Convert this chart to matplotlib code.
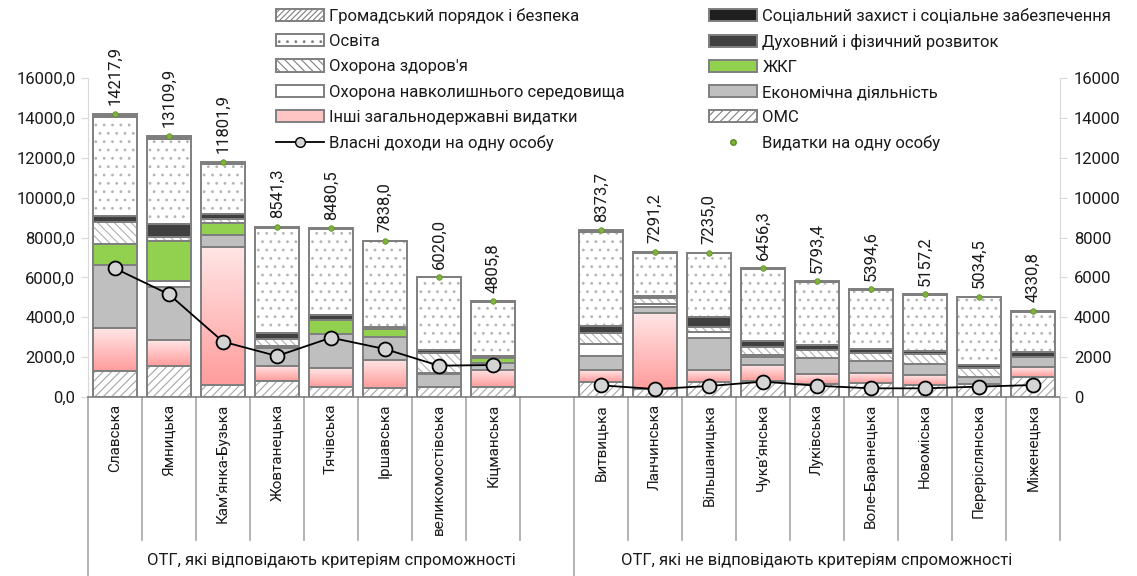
import numpy as np
import matplotlib
matplotlib.use("Agg")
import matplotlib.pyplot as plt
import matplotlib.transforms as mtransforms
from matplotlib.patches import Patch
from matplotlib.lines import Line2D
from matplotlib.colors import LinearSegmentedColormap

plt.rcParams["font.family"] = ["Roboto", "DejaVu Sans"]
plt.rcParams["hatch.linewidth"] = 0.8

# ---- categories -------------------------------------------------------
group1 = ["Славська", "Ямницька", "Кам’янка-Бузька", "Жовтанецька",
          "Тячівська", "Іршавська", "великомостівська", "Кіцманська"]
group2 = ["Витвицька", "Ланчинська", "Вільшаницька", "Чукв’янська",
          "Луківська", "Воле-Баранецька", "Новоміська", "Перерíслянська".replace("í", "і"),
          "Міженецька"]
group_titles = ["ОТГ, які відповідають критеріям спроможності",
                "ОТГ, які не відповідають критеріям спроможності"]

# ---- expenditure structure per person (bottom to top of the stack) ----
omc = [1315, 1570, 600, 800, 520, 440, 485, 485,
       770, 385, 770, 820, 650, 720, 600, 635, 990]
inshi = [2150, 1290, 6940, 755, 920, 1415, 0, 870,
         585, 3845, 585, 785, 500, 500, 500, 0, 500]
ekon = [3170, 2670, 585, 905, 1700, 1170, 665, 365,
        700, 270, 1620, 415, 790, 585, 540, 385, 500]
navk = [0, 290, 0, 0, 0, 0, 0, 0,
        585, 165, 300, 85, 0, 0, 0, 0, 0]
zhkg = [1015, 2000, 620, 100, 720, 385, 70, 220,
        0, 0, 0, 0, 0, 0, 0, 0, 0]
zdorov = [1150, 215, 185, 345, 0, 0, 970, 0,
          585, 285, 250, 385, 415, 385, 515, 420, 0]
dukh = [300, 640, 250, 300, 230, 80, 165, 100,
        335, 115, 475, 320, 235, 200, 165, 165, 270]
osvita = [4927.9, 4264.9, 2509.9, 5256.3, 4330.5, 4318.0, 3640.0, 2735.8,
          4733.7, 2176.2, 3205.0, 3596.3, 3188.4, 2974.6, 2797.2, 3419.5, 2010.8]
soc = [120, 110, 70, 50, 40, 20, 15, 20,
       50, 30, 20, 30, 10, 20, 25, 5, 40]
gromad = [70, 60, 42, 30, 20, 10, 10, 10,
          30, 20, 10, 20, 5, 10, 15, 5, 20]

# per-person expenditure (labelled points) and own revenues per person
vydatky = [14217.9, 13109.9, 11801.9, 8541.3, 8480.5, 7838.0, 6020.0, 4805.8,
           8373.7, 7291.2, 7235.0, 6456.3, 5793.4, 5394.6, 5157.2, 5034.5, 4330.8]
vlasni = [6450, 5150, 2775, 2055, 2975, 2405, 1570, 1605,
          585, 400, 550, 770, 565, 435, 435, 520, 600]

y_ticks = [0, 2000, 4000, 6000, 8000, 10000, 12000, 14000, 16000]

# ---- styling ----------------------------------------------------------
EDGE = "#7f7f7f"
TXT = "#1a1a1a"
stack = [
    ("ОМС", omc, "white", "#a6a6a6", "////"),
    ("Інші загальнодержавні видатки", inshi, "#ffc4c4", None, None),
    ("Економічна діяльність", ekon, "#bfbfbf", None, None),
    ("Охорона навколишнього середовища", navk, "white", None, None),
    ("ЖКГ", zhkg, "#92d050", None, None),
    ("Охорона здоров'я", zdorov, "white", "#b0b0b0", "\\\\\\\\"),
    ("Духовний і фізичний розвиток", dukh, "#404040", None, None),
    ("Освіта", osvita, "white", "#b4b4b4", ".."),
    ("Соціальний захист і соціальне забезпечення", soc, "#1f1f1f", None, None),
    ("Громадський порядок і безпека", gromad, "white", "#6e6e6e", "//////"),
]

W, H = 1137, 576
fig = plt.figure(figsize=(W / 100, H / 100), dpi=100)
x0, x1, yb, yt = 88, 1060, 397, 78
ax = fig.add_axes([x0 / W, 1 - yb / H, (x1 - x0) / W, (yb - yt) / H])

pos = np.concatenate([np.arange(len(group1)), np.arange(len(group2)) + len(group1) + 1])
bw = 0.83

pink_cmap = LinearSegmentedColormap.from_list("pinkgrad", ["#ff9c9c", "#ffe6e6"])
grad = np.linspace(0, 1, 128).reshape(-1, 1)

bottom = np.zeros(len(pos))
for name, vals, face, hcol, hatch in stack:
    vals = np.asarray(vals, dtype=float)
    if hatch:
        ax.bar(pos, vals, bw, bottom=bottom, color=face, edgecolor=hcol,
               hatch=hatch, linewidth=0, zorder=2)
    else:
        ax.bar(pos, vals, bw, bottom=bottom, color=face, linewidth=0, zorder=2)
    if name.startswith("Інші"):
        for p, b, v in zip(pos, bottom, vals):
            if v > 0:
                ax.imshow(grad, cmap=pink_cmap, origin="lower", aspect="auto",
                          extent=[p - bw / 2, p + bw / 2, b, b + v], zorder=2.5,
                          interpolation="bilinear")
    mask = vals > 0
    ax.bar(pos[mask], vals[mask], bw, bottom=bottom[mask], fill=False,
           edgecolor=EDGE, linewidth=1.4, zorder=3)
    bottom += vals

ax.set_xlim(-0.5, len(pos) + 0.5)
ax.set_ylim(0, 16000)
ax.set_yticks(y_ticks)
ax.set_yticklabels([f"{v:.1f}".replace(".", ",") for v in y_ticks],
                   fontsize=12, color=TXT)
ax.set_xticks([])
ax.tick_params(axis="y", length=5, color="#d9d9d9", pad=4)
for s in ("top", "right"):
    ax.spines[s].set_visible(False)
ax.spines["left"].set_color("#d9d9d9")
ax.spines["bottom"].set_color("#808080")
ax.spines["bottom"].set_linewidth(1.2)

ax2 = ax.twinx()
ax2.set_ylim(0, 16000)
ax2.set_yticks(y_ticks)
ax2.set_yticklabels([str(v) for v in y_ticks], fontsize=12, color=TXT)
ax2.tick_params(axis="y", length=5, color="#d9d9d9", pad=5)
for s in ("top", "left", "bottom"):
    ax2.spines[s].set_visible(False)
ax2.spines["right"].set_color("#d9d9d9")

# own revenues line, broken between the two groups
n1 = len(group1)
for sl in (slice(0, n1), slice(n1, None)):
    ax2.plot(pos[sl], vlasni[sl], color="black", lw=1.3, marker="o",
             markersize=10, markerfacecolor="#d4d4d4", markeredgecolor="black",
             markeredgewidth=1.3, zorder=5)

# per-person expenditure points with labels
ax2.plot(pos, vydatky, ls="none", marker="o", markersize=4,
         markerfacecolor="#80b33a", markeredgecolor="#5e8a26", markeredgewidth=0.5,
         zorder=6)
for p, v in zip(pos, vydatky):
    ax2.annotate(f"{v:.1f}".replace(".", ","), (p, v), xytext=(0, 6),
                 textcoords="offset points", rotation=90, ha="center", va="bottom",
                 fontsize=12, color=TXT)

# category labels and separators below the axis
blend = mtransforms.blended_transform_factory(ax.transData, fig.transFigure)
for p, name in zip(pos, group1 + group2):
    ax.text(p, 1 - 404 / H, name, rotation=90, ha="center", va="top",
            fontsize=11, color=TXT, transform=blend)
edges = np.arange(len(pos) + 2) - 0.5
long_edges = {-0.5, n1 + 0.5}
for e in edges:
    y_end = 576 if e in long_edges else 540
    ax.add_line(Line2D([e, e], [1 - yb / H, 1 - y_end / H], transform=blend,
                       color="#a6a6a6", lw=1.2, clip_on=False))
ax.text((-0.5 + n1 + 0.5) / 2, 1 - 561 / H, group_titles[0], ha="center",
        va="center", fontsize=12, color=TXT, transform=blend)
ax.text((n1 + 0.5 + len(pos) + 0.5) / 2, 1 - 561 / H, group_titles[1],
        ha="center", va="center", fontsize=12, color=TXT, transform=blend)

# legends
def patch(face, hatch=None, hcol=None):
    return Patch(facecolor=face, edgecolor=hcol or EDGE, hatch=hatch, linewidth=1.4)

styles = {n: (f, h, hc) for n, _, f, hc, h in stack}
line_handle = Line2D([], [], color="black", lw=1.3, marker="o", markersize=7,
                     markerfacecolor="#d4d4d4", markeredgecolor="black")
dot_handle = Line2D([], [], ls="none", marker="o", markersize=4,
                    markerfacecolor="#80b33a", markeredgecolor="#5e8a26")

left_names = ["Громадський порядок і безпека", "Освіта", "Охорона здоров'я",
              "Охорона навколишнього середовища", "Інші загальнодержавні видатки"]
right_names = ["Соціальний захист і соціальне забезпечення",
               "Духовний і фізичний розвиток", "ЖКГ", "Економічна діяльність", "ОМС"]

def handles_for(names):
    out = []
    for n in names:
        f, h, hc = styles[n]
        out.append(patch(f, h, EDGE if h else None))
    return out

kw = dict(frameon=False, fontsize=12, handlelength=2.9, handleheight=0.75,
          labelspacing=0.61, handletextpad=0.3, borderaxespad=0, borderpad=0,
          labelcolor=TXT)
leg1 = fig.legend(handles_for(left_names) + [line_handle],
                  left_names + ["Власні доходи на одну особу"],
                  loc="upper left", bbox_to_anchor=(276 / W, 1 - 8 / H), **kw)
leg2 = fig.legend(handles_for(right_names) + [dot_handle],
                  right_names + ["Видатки на одну особу"],
                  loc="upper left", bbox_to_anchor=(709 / W, 1 - 8 / H), **kw)

fig.savefig("out.png", dpi=100)
